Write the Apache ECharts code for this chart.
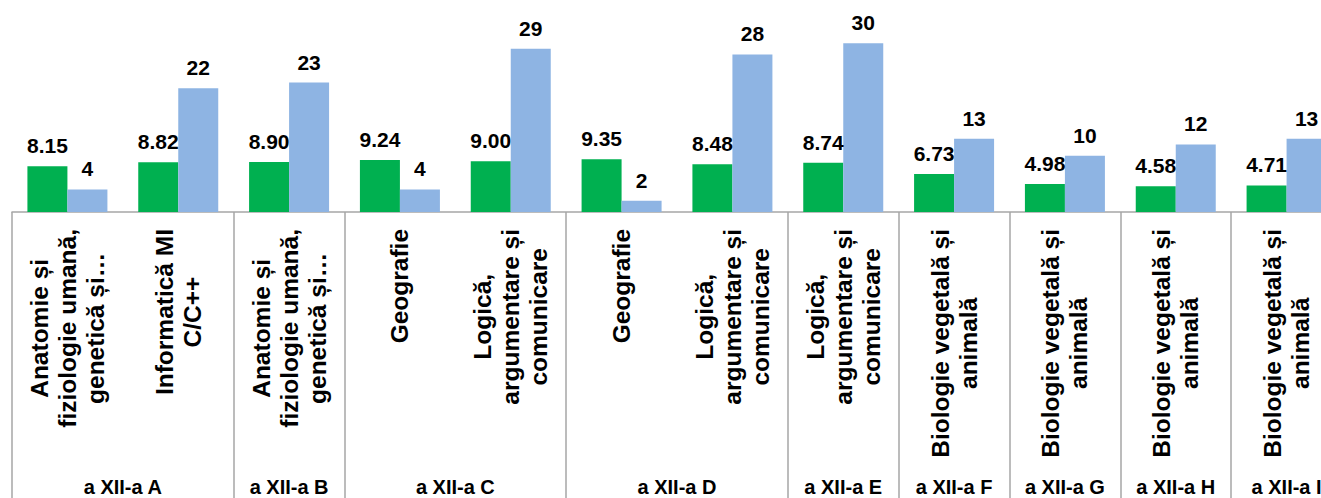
<!DOCTYPE html>
<html>
<head>
<meta charset="utf-8">
<script src="https://cdn.jsdelivr.net/npm/echarts@6/dist/echarts.min.js"></script>
<style>
html,body{margin:0;padding:0;background:#ffffff;}
#chart{width:1321px;height:498px;}
</style>
</head>
<body>
<div id="chart"></div>
<script>
// ---- data ----
const subjects = [
  "Anatomie și\nfiziologie umană,\ngenetică și…",
  "Informatică MI\nC/C++",
  "Anatomie și\nfiziologie umană,\ngenetică și…",
  "Geografie",
  "Logică,\nargumentare și\ncomunicare",
  "Geografie",
  "Logică,\nargumentare și\ncomunicare",
  "Logică,\nargumentare și\ncomunicare",
  "Biologie vegetală și\nanimală",
  "Biologie vegetală și\nanimală",
  "Biologie vegetală și\nanimală",
  "Biologie vegetală și\nanimală"
];
const groups = ["a XII-a A", "a XII-a B", "a XII-a C", "a XII-a D", "a XII-a E", "a XII-a F", "a XII-a G", "a XII-a H", "a XII-a I"];
const groupSizes = [2, 1, 2, 2, 1, 1, 1, 1, 1];
const averages = [8.15, 8.82, 8.90, 9.24, 9.00, 9.35, 8.48, 8.74, 6.73, 4.98, 4.58, 4.71];
const students = [4, 22, 23, 4, 29, 2, 28, 30, 13, 10, 12, 13];

// ---- derived helpers ----
const groupStart = {};
const groupCenter = {};
let pos = 0;
groups.forEach((g, i) => {
  groupStart[pos] = true;
  groupCenter[(pos + groupSizes[i] / 2).toFixed(1)] = g;
  pos += groupSizes[i];
});

const FONT = "'Liberation Sans', Arial, sans-serif";
const GRAY = '#a6a6a6';

const chart = echarts.init(document.getElementById('chart'), null, {renderer: 'svg'});
chart.setOption({
  animation: false,
  backgroundColor: '#ffffff',
  grid: {left: 12, right: -21, top: 15, bottom: 286, containLabel: false, outerBoundsMode: 'none'},
  xAxis: [
    {
      type: 'category',
      data: subjects,
      position: 'bottom',
      boundaryGap: true,
      axisLine: {show: true, lineStyle: {color: GRAY, width: 1.5}},
      axisTick: {
        show: true,
        length: 295,
        interval: function (index) { return !!groupStart[index]; },
        lineStyle: {color: GRAY, width: 1.5}
      },
      axisLabel: {
        interval: 0,
        rotate: 90,
        margin: 17,
        formatter: function (v) {
          return v.split('\n').map(l => '{c|' + l + '}').join('\n');
        },
        rich: {
          c: {align: 'center', fontFamily: FONT, fontSize: 24.5, fontWeight: 'bold', lineHeight: 28, color: '#000000'}
        },
        fontFamily: FONT, fontSize: 24.5, fontWeight: 'bold', lineHeight: 28, color: '#000000'
      },
      splitLine: {show: false}
    },
    {
      type: 'value',
      position: 'bottom',
      min: 0,
      max: subjects.length,
      interval: 0.5,
      axisLine: {show: false},
      axisTick: {show: false},
      splitLine: {show: false},
      axisLabel: {
        margin: 265,
        fontFamily: FONT, fontSize: 20, fontWeight: 'bold', color: '#000000',
        showMinLabel: true, showMaxLabel: true,
        formatter: function (v) { return groupCenter[Number(v).toFixed(1)] || ''; }
      }
    }
  ],
  yAxis: {type: 'value', min: 0, max: 35, show: false, splitLine: {show: false}},
  series: [
    {
      name: 'Media',
      type: 'bar',
      xAxisIndex: 0,
      data: averages,
      barWidth: 40,
      barGap: '0%',
      itemStyle: {color: '#00B050'},
      label: {
        show: true, position: 'top', distance: 10,
        fontFamily: FONT, fontSize: 21, fontWeight: 'bold', color: '#000000',
        formatter: p => Number(p.value).toFixed(2)
      }
    },
    {
      name: 'Elevi',
      type: 'bar',
      xAxisIndex: 0,
      data: students,
      barWidth: 40,
      barGap: '0%',
      itemStyle: {color: '#8EB4E3'},
      label: {
        show: true, position: 'top', distance: 10,
        fontFamily: FONT, fontSize: 21, fontWeight: 'bold', color: '#000000',
        formatter: p => String(p.value)
      }
    }
  ]
});
</script>
</body>
</html>
